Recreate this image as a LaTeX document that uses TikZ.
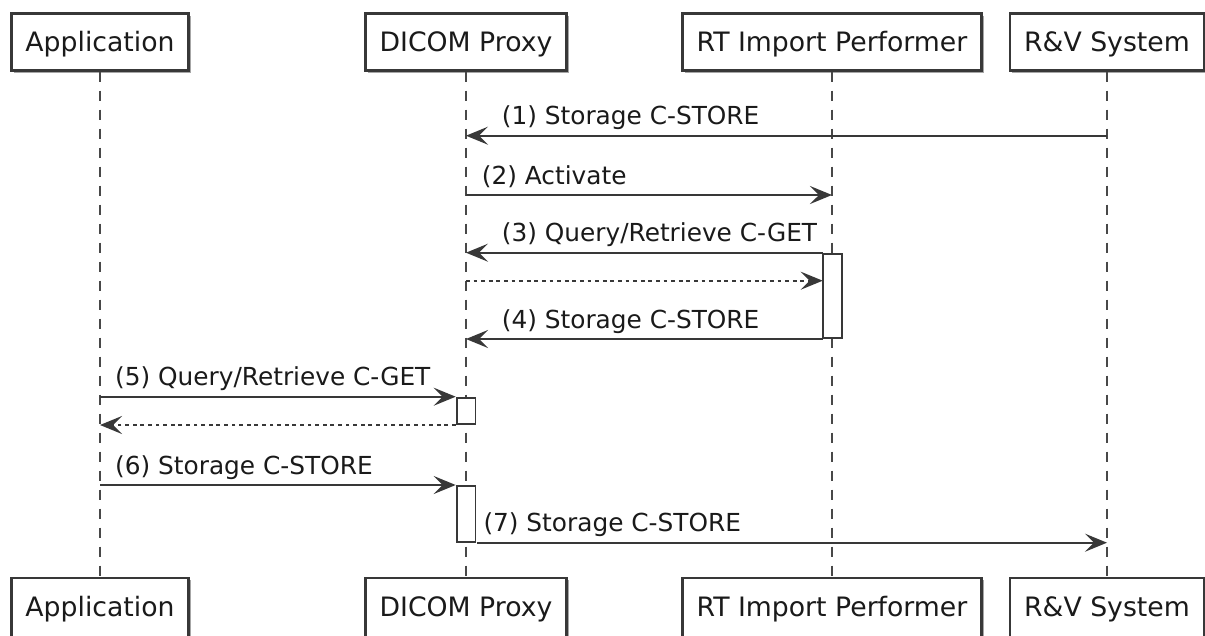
\documentclass[tikz,border=0pt]{standalone}
\usepackage{fontspec}
\setmainfont{DejaVu Sans}
\usetikzlibrary{arrows.meta,shadows}
\definecolor{ln}{HTML}{383838}
\definecolor{lf}{HTML}{484848}
\definecolor{txt}{HTML}{1A1A1A}
\begin{document}
\begin{tikzpicture}[x=1pt,y=-1pt,
  part/.style={draw=ln, line width=2.6pt, fill=white, inner xsep=14pt, inner ysep=0pt,
    text height=37.9pt, text depth=18.9pt, font=\fontsize{26.7}{30}\selectfont, text=txt, anchor=base,
    drop shadow={shadow xshift=2.2pt, shadow yshift=-2.2pt, opacity=0.35, fill=black}},
  partlow/.style={part, text depth=24pt},
  lifeline/.style={draw=lf, line width=1.7pt, dash pattern=on 10pt off 9pt},
  actbox/.style={draw=ln, line width=1.9pt, fill=white, inner sep=0pt, minimum width=18.6pt},
  msg/.style={draw=ln, line width=1.9pt, -{Stealth[length=22pt,width=18pt,inset=9pt]}},
  reply/.style={msg, dash pattern=on 3.8pt off 3.8pt},
  mlabel/.style={font=\fontsize{24.8}{28}\selectfont, text=txt, anchor=base west, inner sep=0pt}]
\useasboundingbox (0,0) rectangle (1205,635);
\clip (0,0) rectangle (1205,635);
\fill[white] (0,0) rectangle (1205,635);

% participants (top and bottom)
\node[part] (appT) at (100,51.5) {Application};
\node[part] (dpT) at (466,51.5) {DICOM Proxy};
\node[part] (rtT) at (832,51.5) {RT Import Performer};
\node[part] (rvT) at (1107,51.5) {R\&V System};
\node[partlow] (appB) at (100,616) {Application};
\node[partlow] (dpB) at (466,616) {DICOM Proxy};
\node[partlow] (rtB) at (832,616) {RT Import Performer};
\node[partlow] (rvB) at (1107,616) {R\&V System};

% lifelines
\draw[lifeline] (appT.south) -- (appB.north);
\draw[lifeline] (dpT.south) -- (dpB.north);
\draw[lifeline] (rtT.south) -- (rtB.north);
\draw[lifeline] (rvT.south) -- (rvB.north);

% activations
\node[actbox, minimum height=84.4pt] (actRT) at (832.5,295.85) {};
\node[actbox, minimum height=26.4pt] (actDP1) at (466.2,410.85) {};
\node[actbox, minimum height=55.8pt] (actDP2) at (466.2,513.85) {};

% message end points
\coordinate (m1s) at (1107,135.7);   \coordinate (m1e) at (466,135.7);
\coordinate (m2s) at (466,195);      \coordinate (m2e) at (832,195);
\coordinate (m3s) at (822.7,252.7);  \coordinate (m3e) at (466,252.7);
\coordinate (r3s) at (466,280.7);    \coordinate (r3e) at (822.7,280.7);
\coordinate (m4s) at (822.7,339);    \coordinate (m4e) at (466,339);
\coordinate (m5s) at (100,396.7);    \coordinate (m5e) at (455.7,396.7);
\coordinate (r5s) at (455.7,425);    \coordinate (r5e) at (100,425);
\coordinate (m6s) at (100,485);      \coordinate (m6e) at (455.7,485);
\coordinate (m7s) at (476.7,542.7);  \coordinate (m7e) at (1107,542.7);

% messages
\draw[msg] (m1s) -- (m1e);
\node[mlabel] (l1) at (501.7,124.7) {(1) Storage C-STORE};
\draw[msg] (m2s) -- (m2e);
\node[mlabel] (l2) at (481.7,184) {(2) Activate};
\draw[msg] (m3s) -- (m3e);
\node[mlabel] (l3) at (501.7,241.7) {(3) Query/Retrieve C-GET};
\draw[reply] (r3s) -- (r3e);
\draw[msg] (m4s) -- (m4e);
\node[mlabel] (l4) at (501.7,328) {(4) Storage C-STORE};
\draw[msg] (m5s) -- (m5e);
\node[mlabel] (l5) at (115,385.7) {(5) Query/Retrieve C-GET};
\draw[reply] (r5s) -- (r5e);
\draw[msg] (m6s) -- (m6e);
\node[mlabel] (l6) at (115,474) {(6) Storage C-STORE};
\draw[msg] (m7s) -- (m7e);
\node[mlabel] (l7) at (483.3,531.7) {(7) Storage C-STORE};
\end{tikzpicture}
\end{document}
